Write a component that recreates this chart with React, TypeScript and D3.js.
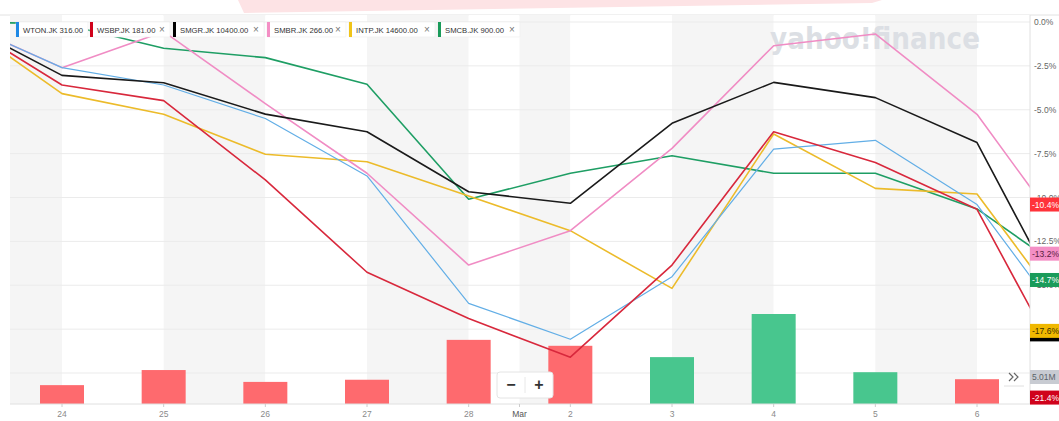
import React, { useEffect } from 'react';
import * as d3 from 'd3';

// trading days, index -1 .. 10 (21 Feb .. 9 Mar)
const dates = ['21', '24', '25', '26', '27', '28', '2', '3', '4', '5', '6', '9'];
const tickDates = ['24', '25', '26', '27', '28', '2', '3', '4', '5', '6'];
const symbols = ['WTON.JK', 'WSBP.JK', 'SMGR.JK', 'SMBR.JK', 'INTP.JK', 'SMCB.JK'];
const prices = ['316.00', '181.00', '10400.00', '266.00', '14600.00', '900.00'];

// % change vs. first day
const wton = [0, -2.6, -3.59, -5.5, -8.77, -16.03, -18.08, -14.51, -7.24, -6.74, -10.4, -18.2];
const wsbp = [0, -3.59, -4.48, -9.0, -14.26, -16.9, -19.1, -13.85, -6.25, -8.0, -10.67, -21.4];
const smgr = [0, -3.04, -3.46, -5.25, -6.25, -9.67, -10.33, -5.77, -3.44, -4.31, -6.87, -17.8];
const smbr = [0, -2.6, -0.55, -4.65, -8.62, -13.85, -11.89, -7.2, -1.35, -0.68, -5.26, -13.2];
const intp = [0, -4.08, -5.26, -7.54, -7.96, -9.91, -11.89, -15.18, -6.38, -9.48, -9.8, -17.6];
const smcb = [0, -0.1, -1.5, -2.03, -3.55, -10.1, -8.62, -7.62, -8.62, -8.62, -10.65, -14.7];

// volume (millions), index 0 .. 10
const volume = [3.5, 6.3, 4.1, 4.5, 11.9, 10.8, 8.7, 16.7, 5.9, 4.6, 5.01];
const volumeUp = [false, false, false, false, false, false, true, true, true, false, false];

const yTicks = [0, -2.5, -5, -7.5, -10, -12.5, -15, -17.5, -20];
const endLabels = [-10.4, -13.2, -14.7, -17.8, -17.6, -21.4];

const lineColors = ['#62aee6', '#d8283c', '#1a1a1a', '#f08cc4', '#ecbb2a', '#1e9e64'];
const barColors = ['#1e88e5', '#d0021b', '#000000', '#f48fc5', '#f0c419', '#1a9b5a'];
const endColors = ['#ff333a', '#f48fc5', '#1a9b5a', '#000000', '#f0b800', '#d0021b'];
const endText = ['#fff', '#5a2040', '#fff', '#fff', '#3a3000', '#fff'];

const W = 1059;
const H = 421;
const left = 10, right = 1030, top = 15, bottom = 404;
const legendX = [16, 90, 173, 267, 349, 438];
const legendW = [72, 80, 91, 79, 86, 82];
const FONT = '"Liberation Sans", Arial, sans-serif';

export default function App() {
  useEffect(() => {
    document.body.style.margin = '0';
  }, []);

  const series = [wton, wsbp, smgr, smbr, intp, smcb];
  const x = d3.scaleLinear().domain([0, 9]).range([62, 977]);
  const y = d3.scaleLinear().domain([0, -20]).range([22, 373]);
  const v = d3.scaleLinear().domain([0, 5.01]).range([bottom, bottom - 27]);
  const line = d3.line<number>().x((_, i) => x(i - 1)).y(d => y(d));

  const bounds = [-1, 0, 1, 2, 3, 4, 4.5, 5, 6, 7, 8, 9, 10];
  const barW = 44;
  const drawOrder = [5, 4, 3, 0, 2, 1];

  return (
    <svg width={W} height={H} style={{ display: 'block', fontFamily: FONT }}>
      <defs>
        <clipPath id="plot">
          <rect x={left} y={top} width={right - left} height={bottom - top} />
        </clipPath>
      </defs>
      <rect width={W} height={H} fill="#fff" />
      {/* cut-off toolbar */}
      <polygon points="238,0 882,0 872,3 244,13" fill="#fde3e5" />
      <line x1={0} x2={W} y1={top} y2={top} stroke="#e2e2e2" />

      <g clipPath="url(#plot)">
        {bounds.slice(0, -1).map((b, i) => (
          <rect key={i} x={x(b)} y={top} width={x(bounds[i + 1]) - x(b)} height={bottom - top}
            fill={i % 2 === 0 ? '#f5f5f5' : '#fff'} />
        ))}
        {yTicks.map(t => (
          <line key={t} x1={left} x2={right} y1={y(t)} y2={y(t)} stroke="#ebebeb" />
        ))}
        <text x={770} y={49} fontSize={31} fontWeight={900} fill="#dcdfe4"
          textLength={210} lengthAdjust="spacingAndGlyphs" fontFamily='"DejaVu Sans", sans-serif'>yahoo!finance</text>
        {volume.map((d, i) => (
          <rect key={i} x={x(i) - barW / 2} y={v(d)} width={barW} height={bottom - v(d)}
            fill={volumeUp[i] ? '#48c68e' : '#fe6a6e'} />
        ))}
        {drawOrder.map(k => (
          <path key={k} d={line(series[k]) || ''} fill="none" stroke={lineColors[k]}
            strokeWidth={k === 0 ? 1.2 : 1.6} strokeLinejoin="round" />
        ))}
      </g>

      {/* axes */}
      <line x1={right} x2={right} y1={top} y2={bottom} stroke="#e0e0e0" />
      <line x1={left} x2={right} y1={bottom} y2={bottom} stroke="#e0e0e0" />
      {tickDates.map((t, i) => (
        <g key={t + i}>
          <line x1={x(i)} x2={x(i)} y1={bottom} y2={bottom + 3} stroke="#ccc" />
          <text x={x(i)} y={417} fontSize={8.5} fill="#8a8a8a" textAnchor="middle">{t}</text>
        </g>
      ))}
      <line x1={x(4.5)} x2={x(4.5)} y1={bottom} y2={bottom + 3} stroke="#ccc" />
      <text x={x(4.5)} y={417} fontSize={8.5} fill="#555" textAnchor="middle">Mar</text>
      {yTicks.map(t => (
        <text key={t} x={1034} y={y(t) + 3} fontSize={8.5} fill="#666">{t.toFixed(1)}%</text>
      ))}

      {/* legend */}
      {symbols.map((s, i) => (
        <g key={s}>
          <rect x={legendX[i]} y={22} width={legendW[i]} height={15} fill="#fff" stroke="#ececec" strokeWidth={0.6} rx={1} />
          <rect x={legendX[i]} y={22} width={3} height={15} fill={barColors[i]} />
          <text x={legendX[i] + 7} y={32.5} fontSize={7.7} fill="#333">{`${s} ${prices[i]}`}</text>
          {i > 0 && (
            <text x={legendX[i] + legendW[i] - 8} y={33} fontSize={10} fill="#777" textAnchor="middle">×</text>
          )}
        </g>
      ))}

      {/* zoom control */}
      <rect x={497} y={372} width={56} height={26} fill="#fff" stroke="#e4e4e4" rx={3} />
      <line x1={525} x2={525} y1={377} y2={393} stroke="#e8e8e8" />
      <text x={511} y={390} fontSize={16} fontWeight={700} fill="#333" textAnchor="middle">−</text>
      <text x={539} y={390} fontSize={16} fontWeight={700} fill="#333" textAnchor="middle">+</text>
      <polyline points="1009,373 1013,377 1009,381" fill="none" stroke="#666" strokeWidth={1.2} />
      <polyline points="1014,373 1018,377 1014,381" fill="none" stroke="#666" strokeWidth={1.2} />
      <line x1={1004} x2={1024} y1={386} y2={386} stroke="#e0e0e0" />

      {/* last value labels */}
      {endLabels.map((d, i) => (
        <g key={i}>
          <rect x={right} y={y(d) - 7} width={W - right} height={14} fill={endColors[i]} />
          <text x={1032} y={y(d) + 3} fontSize={8.5} fill={endText[i]}>{d.toFixed(1)}%</text>
        </g>
      ))}
      <rect x={right} y={370} width={W - right} height={14} fill="#c8cbd2" />
      <text x={1032} y={380} fontSize={8.5} fill="#5b636a">{volume[volume.length - 1].toFixed(2)}M</text>
    </svg>
  );
}
